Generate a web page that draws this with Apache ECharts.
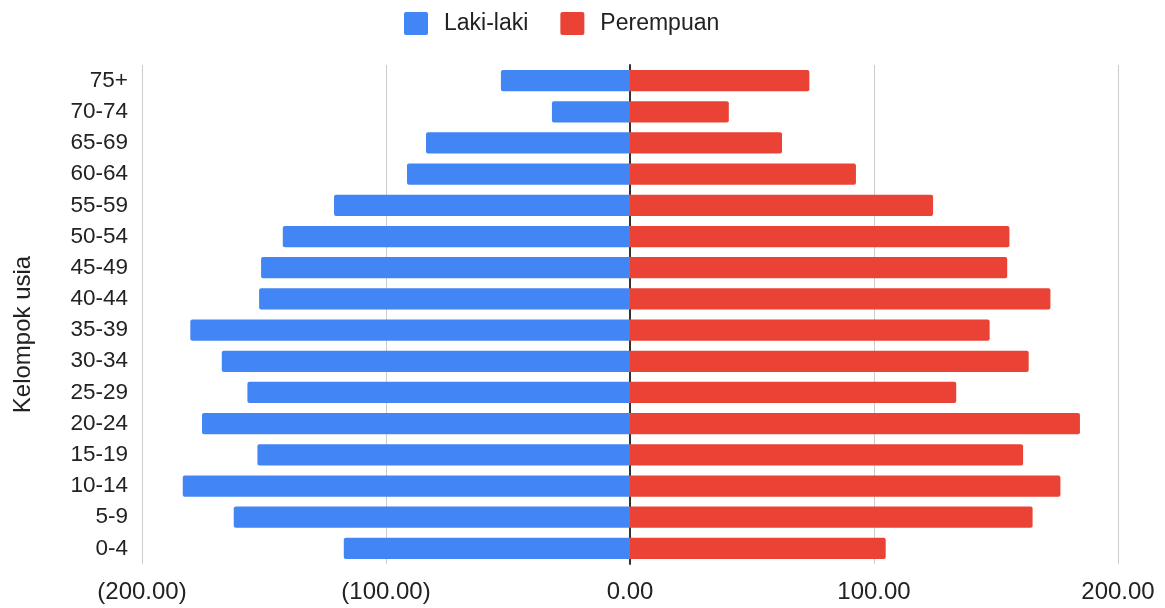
<!DOCTYPE html>
<html>
<head>
<meta charset="utf-8">
<script src="https://cdn.jsdelivr.net/npm/echarts@6/dist/echarts.min.js"></script>
<style>
  html, body { margin: 0; padding: 0; background: #fff; }
  #chart { width: 1165px; height: 608px; }
</style>
</head>
<body>
<div id="chart"></div>
<script>
// age groups, bottom to top
const kelompokUsia = ['0-4', '5-9', '10-14', '15-19', '20-24', '25-29', '30-34', '35-39',
  '40-44', '45-49', '50-54', '55-59', '60-64', '65-69', '70-74', '75+'];
// men drawn to the left, so stored negative
const lakiLaki = [-117.3, -162.4, -183.3, -152.7, -175.4, -156.8, -167.3, -180.2,
  -152.0, -151.2, -142.3, -121.3, -91.4, -83.6, -32.0, -52.9];
const perempuan = [104.8, 165.0, 176.4, 161.1, 184.4, 133.7, 163.4, 147.4,
  172.3, 154.6, 155.5, 124.2, 92.6, 62.3, 40.5, 73.5];
const xTicks = [-200, -100, 0, 100, 200];

const fontFam = '"Liberation Sans", Arial, sans-serif';
const legendIcon = 'path://M2,0H22A2,2,0,0,1,24,2V21A2,2,0,0,1,22,23H2A2,2,0,0,1,0,21V2A2,2,0,0,1,2,0Z';

const chart = echarts.init(document.getElementById('chart'));

chart.setOption({
  animation: false,
  textStyle: { fontFamily: fontFam },
  legend: {
    top: 7,
    left: 399,
    itemWidth: 24,
    itemHeight: 23,
    itemGap: 32,
    icon: legendIcon,
    textStyle: { fontSize: 23, color: '#222', fontFamily: fontFam, padding: [0, 0, 0, 11] },
    data: ['Laki-laki', 'Perempuan']
  },
  grid: { left: 142, right: 47, top: 65, bottom: 44 },
  xAxis: {
    type: 'value',
    min: xTicks[0],
    max: xTicks[xTicks.length - 1],
    interval: 100,
    axisLine: { show: false },
    axisTick: { show: false },
    splitLine: { lineStyle: { color: '#cccccc', width: 1 } },
    axisLabel: {
      margin: 16,
      fontSize: 24,
      color: '#222',
      formatter: function (v) {
        return v < 0 ? '(' + Math.abs(v).toFixed(2) + ')' : v.toFixed(2);
      }
    }
  },
  yAxis: {
    type: 'category',
    data: kelompokUsia,
    name: 'Kelompok usia',
    nameLocation: 'middle',
    nameGap: 107,
    nameRotate: 90,
    nameTextStyle: { fontSize: 24, color: '#222', padding: [0, 40, 0, 0] },
    axisTick: { show: false },
    axisLine: { show: true, onZero: true, lineStyle: { color: '#333', width: 2 } },
    axisLabel: {
      fontSize: 22.5,
      color: '#222',
      margin: 14
    }
  },
  series: [
    {
      name: 'Laki-laki',
      type: 'bar',
      data: lakiLaki,
      barGap: '-100%',
      barCategoryGap: '32%',
      itemStyle: { color: '#4285f4', borderRadius: [2, 0, 0, 2] },
      z: 2
    },
    {
      name: 'Perempuan',
      type: 'bar',
      data: perempuan,
      barGap: '-100%',
      barCategoryGap: '32%',
      itemStyle: { color: '#ea4335', borderRadius: [0, 2, 2, 0] },
      z: 2
    }
  ]
});
</script>
</body>
</html>
